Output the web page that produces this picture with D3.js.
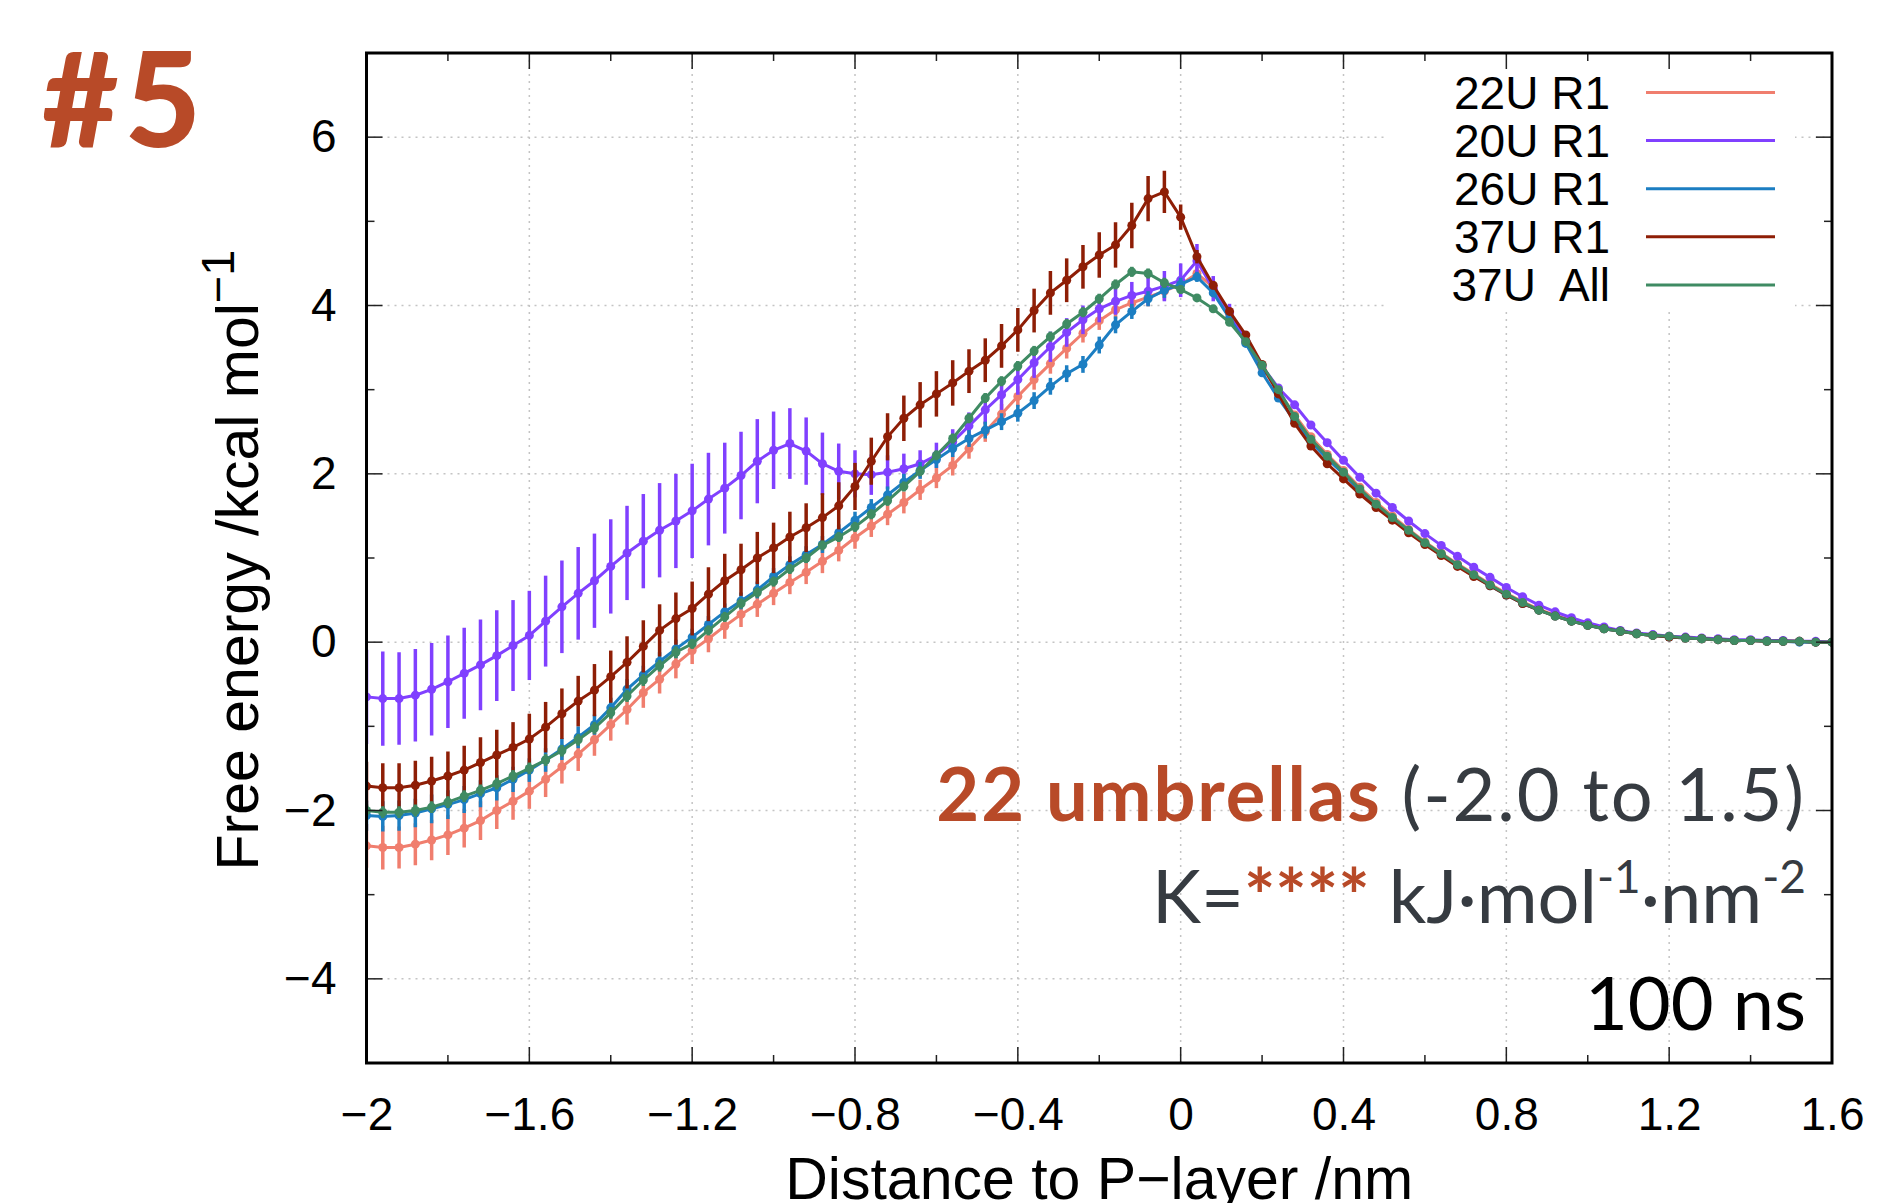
<!DOCTYPE html>
<html>
<head>
<meta charset="utf-8">
<script src="https://cdn.jsdelivr.net/npm/d3@7"></script>
<style>
  body { margin: 0; background: #fff; }
  svg { display: block; }
</style>
</head>
<body>
<svg id="chart" width="1884" height="1203"></svg>
<script>
// sampling grid of the umbrella profiles (nm), one point every 0.04
const distance = d3.range(0, 91).map(i => +(-2 + i * 0.04).toFixed(2));

// free energy (kcal/mol)
const fe22U = [
  -2.42, -2.44, -2.44, -2.40, -2.35, -2.29, -2.21, -2.12, -2.00, -1.89,
  -1.77, -1.63, -1.48, -1.33, -1.16, -0.98, -0.80, -0.60, -0.44, -0.26,
  -0.10, 0.04, 0.19, 0.33, 0.45, 0.58, 0.71, 0.83, 0.96, 1.09,
  1.24, 1.38, 1.52, 1.66, 1.81, 1.95, 2.10, 2.30, 2.50, 2.71,
  2.92, 3.12, 3.31, 3.49, 3.67, 3.82, 3.95, 4.03, 4.10, 4.17,
  4.25, 4.38, 4.22, 3.90, 3.58, 3.26, 2.98, 2.70, 2.44, 2.23,
  2.04, 1.84, 1.66, 1.50, 1.34, 1.19, 1.06, 0.93, 0.81, 0.69,
  0.58, 0.48, 0.39, 0.32, 0.26, 0.21, 0.17, 0.13, 0.10, 0.08,
  0.07, 0.05, 0.04, 0.03, 0.02, 0.02, 0.01, 0.01, 0.01, 0.00,
  0.00
];
const fe20U = [
  -0.65, -0.67, -0.67, -0.63, -0.56, -0.47, -0.37, -0.27, -0.16, -0.04,
  0.08, 0.25, 0.42, 0.58, 0.73, 0.90, 1.06, 1.20, 1.33, 1.44,
  1.56, 1.70, 1.83, 1.98, 2.15, 2.28, 2.36, 2.27, 2.12, 2.03,
  2.00, 1.99, 2.02, 2.06, 2.12, 2.22, 2.38, 2.57, 2.76, 2.94,
  3.12, 3.32, 3.51, 3.68, 3.83, 3.96, 4.05, 4.12, 4.17, 4.23,
  4.30, 4.53, 4.20, 3.92, 3.58, 3.28, 3.02, 2.82, 2.58, 2.37,
  2.16, 1.96, 1.77, 1.60, 1.44, 1.29, 1.15, 1.02, 0.89, 0.77,
  0.65, 0.54, 0.44, 0.36, 0.29, 0.23, 0.18, 0.14, 0.11, 0.09,
  0.07, 0.06, 0.05, 0.04, 0.03, 0.03, 0.02, 0.02, 0.01, 0.01,
  0.00
];
const fe26U = [
  -2.06, -2.07, -2.06, -2.03, -1.98, -1.93, -1.87, -1.80, -1.73, -1.63,
  -1.52, -1.40, -1.27, -1.13, -0.98, -0.78, -0.56, -0.39, -0.23, -0.08,
  0.06, 0.21, 0.36, 0.49, 0.62, 0.78, 0.92, 1.04, 1.16, 1.30,
  1.45, 1.60, 1.75, 1.90, 2.04, 2.17, 2.30, 2.42, 2.52, 2.62,
  2.72, 2.87, 3.04, 3.19, 3.30, 3.53, 3.77, 3.93, 4.08, 4.18,
  4.25, 4.34, 4.15, 3.85, 3.55, 3.20, 2.90, 2.63, 2.38, 2.18,
  2.00, 1.80, 1.63, 1.47, 1.32, 1.17, 1.04, 0.91, 0.79, 0.67,
  0.56, 0.46, 0.38, 0.31, 0.25, 0.20, 0.16, 0.13, 0.10, 0.08,
  0.06, 0.05, 0.04, 0.03, 0.02, 0.02, 0.01, 0.01, 0.00, 0.00,
  0.00
];
const fe37U = [
  -1.71, -1.73, -1.73, -1.70, -1.65, -1.59, -1.52, -1.43, -1.34, -1.25,
  -1.15, -1.01, -0.85, -0.70, -0.57, -0.41, -0.24, -0.05, 0.14, 0.28,
  0.40, 0.57, 0.73, 0.86, 1.00, 1.12, 1.25, 1.36, 1.48, 1.62,
  1.85, 2.15, 2.44, 2.66, 2.82, 2.95, 3.08, 3.22, 3.35, 3.52,
  3.71, 3.94, 4.15, 4.30, 4.46, 4.60, 4.72, 4.95, 5.27, 5.35,
  5.05, 4.58, 4.24, 3.93, 3.65, 3.30, 2.95, 2.60, 2.33, 2.12,
  1.94, 1.76, 1.60, 1.45, 1.30, 1.16, 1.03, 0.90, 0.78, 0.67,
  0.56, 0.46, 0.38, 0.31, 0.25, 0.20, 0.16, 0.13, 0.10, 0.08,
  0.06, 0.05, 0.04, 0.03, 0.02, 0.02, 0.01, 0.01, 0.01, 0.00,
  0.00
];
const fe37UAll = [
  -2.00, -2.02, -2.02, -2.00, -1.96, -1.90, -1.83, -1.76, -1.68, -1.59,
  -1.50, -1.40, -1.29, -1.16, -1.02, -0.84, -0.64, -0.45, -0.28, -0.12,
  -0.02, 0.14, 0.30, 0.46, 0.59, 0.72, 0.87, 1.00, 1.15, 1.25,
  1.37, 1.52, 1.68, 1.85, 2.03, 2.22, 2.42, 2.66, 2.90, 3.10,
  3.28, 3.46, 3.63, 3.78, 3.92, 4.08, 4.25, 4.40, 4.38, 4.27,
  4.19, 4.09, 3.96, 3.80, 3.57, 3.29, 3.00, 2.68, 2.41, 2.21,
  2.02, 1.82, 1.64, 1.48, 1.33, 1.18, 1.05, 0.92, 0.80, 0.68,
  0.57, 0.47, 0.38, 0.31, 0.25, 0.20, 0.16, 0.13, 0.10, 0.08,
  0.07, 0.05, 0.04, 0.03, 0.02, 0.02, 0.01, 0.01, 0.01, 0.00,
  0.00
];

// error bar half-lengths (kcal/mol)
const err22U = [
  0.26, 0.26, 0.25, 0.25, 0.24, 0.24, 0.23, 0.23, 0.22, 0.22,
  0.21, 0.21, 0.20, 0.20, 0.19, 0.19, 0.18, 0.18, 0.17, 0.17,
  0.16, 0.16, 0.15, 0.15, 0.15, 0.14, 0.14, 0.14, 0.14, 0.13,
  0.13, 0.13, 0.13, 0.13, 0.12, 0.12, 0.12, 0.12, 0.12, 0.12,
  0.12, 0.12, 0.12, 0.12, 0.11, 0.11, 0.11, 0.11, 0.11, 0.11,
  0.10, 0.08, 0.05, 0.04, 0.03, 0.03, 0.02, 0.02, 0.02, 0.02,
  0.02, 0.02, 0.02, 0.02, 0.02, 0.02, 0.02, 0.02, 0.02, 0.02,
  0.02, 0.02, 0.02, 0.02, 0.02, 0.02, 0.02, 0.02, 0.02, 0.02,
  0.02, 0.02, 0.02, 0.02, 0.02, 0.02, 0.02, 0.02, 0.02, 0.02,
  0.02
];
const err20U = [
  0.56, 0.56, 0.55, 0.55, 0.55, 0.55, 0.54, 0.54, 0.54, 0.54,
  0.53, 0.54, 0.55, 0.55, 0.56, 0.56, 0.56, 0.56, 0.56, 0.56,
  0.56, 0.55, 0.54, 0.52, 0.50, 0.46, 0.42, 0.40, 0.37, 0.33,
  0.28, 0.24, 0.20, 0.18, 0.16, 0.15, 0.15, 0.16, 0.17, 0.18,
  0.18, 0.18, 0.18, 0.17, 0.17, 0.16, 0.16, 0.16, 0.17, 0.18,
  0.20, 0.20, 0.15, 0.10, 0.07, 0.05, 0.04, 0.04, 0.03, 0.03,
  0.03, 0.03, 0.03, 0.02, 0.02, 0.02, 0.02, 0.02, 0.02, 0.02,
  0.02, 0.02, 0.02, 0.02, 0.02, 0.02, 0.02, 0.02, 0.02, 0.02,
  0.02, 0.02, 0.02, 0.02, 0.02, 0.02, 0.02, 0.02, 0.02, 0.02,
  0.02
];
const err26U = [
  0.18, 0.18, 0.18, 0.17, 0.17, 0.17, 0.16, 0.16, 0.15, 0.15,
  0.14, 0.14, 0.13, 0.13, 0.12, 0.12, 0.12, 0.11, 0.11, 0.11,
  0.10, 0.10, 0.10, 0.10, 0.10, 0.10, 0.10, 0.10, 0.10, 0.10,
  0.10, 0.10, 0.10, 0.10, 0.10, 0.10, 0.10, 0.10, 0.10, 0.10,
  0.10, 0.10, 0.10, 0.10, 0.10, 0.10, 0.10, 0.09, 0.09, 0.09,
  0.08, 0.06, 0.04, 0.03, 0.03, 0.02, 0.02, 0.02, 0.02, 0.02,
  0.02, 0.02, 0.02, 0.02, 0.02, 0.02, 0.02, 0.02, 0.02, 0.02,
  0.02, 0.02, 0.02, 0.02, 0.02, 0.02, 0.02, 0.02, 0.02, 0.02,
  0.02, 0.02, 0.02, 0.02, 0.02, 0.02, 0.02, 0.02, 0.02, 0.02,
  0.02
];
const err37U = [
  0.29, 0.29, 0.29, 0.29, 0.29, 0.29, 0.29, 0.30, 0.30, 0.30,
  0.30, 0.30, 0.30, 0.30, 0.31, 0.31, 0.31, 0.31, 0.31, 0.31,
  0.32, 0.32, 0.32, 0.31, 0.31, 0.30, 0.30, 0.29, 0.29, 0.28,
  0.28, 0.28, 0.28, 0.27, 0.27, 0.27, 0.27, 0.26, 0.26, 0.26,
  0.26, 0.26, 0.26, 0.26, 0.26, 0.27, 0.27, 0.27, 0.27, 0.25,
  0.15, 0.08, 0.05, 0.04, 0.03, 0.03, 0.03, 0.02, 0.02, 0.02,
  0.02, 0.02, 0.02, 0.02, 0.02, 0.02, 0.02, 0.02, 0.02, 0.02,
  0.02, 0.02, 0.02, 0.02, 0.02, 0.02, 0.02, 0.02, 0.02, 0.02,
  0.02, 0.02, 0.02, 0.02, 0.02, 0.02, 0.02, 0.02, 0.02, 0.02,
  0.02
];
const err37UAll = [
  0.07, 0.07, 0.07, 0.07, 0.07, 0.07, 0.07, 0.07, 0.07, 0.07,
  0.07, 0.07, 0.07, 0.07, 0.07, 0.07, 0.07, 0.07, 0.07, 0.07,
  0.06, 0.06, 0.06, 0.06, 0.06, 0.06, 0.06, 0.06, 0.06, 0.06,
  0.06, 0.06, 0.06, 0.06, 0.06, 0.06, 0.06, 0.06, 0.06, 0.06,
  0.06, 0.06, 0.06, 0.06, 0.06, 0.06, 0.06, 0.06, 0.06, 0.06,
  0.05, 0.04, 0.03, 0.03, 0.02, 0.02, 0.02, 0.02, 0.02, 0.02,
  0.02, 0.02, 0.02, 0.02, 0.02, 0.02, 0.02, 0.02, 0.02, 0.02,
  0.02, 0.02, 0.02, 0.02, 0.02, 0.02, 0.02, 0.02, 0.02, 0.02,
  0.02, 0.02, 0.02, 0.02, 0.02, 0.02, 0.02, 0.02, 0.02, 0.02,
  0.02
];

const seriesNames = ['22U R1', '20U R1', '26U R1', '37U R1', '37U  All'];
const seriesColors = ['#f07e6e', '#8040ff', '#1c7ec2', '#8e1e06', '#3f8b63'];
const seriesValues = [fe22U, fe20U, fe26U, fe37U, fe37UAll];
const seriesErrors = [err22U, err20U, err26U, err37U, err37UAll];

const xTickValues = [-2, -1.6, -1.2, -0.8, -0.4, 0, 0.4, 0.8, 1.2, 1.6];
const yTickValues = [-4, -2, 0, 2, 4, 6];

const margin = {left: 366.5, right: 1832, top: 53, bottom: 1063};
const accent = '#b84a28';
const slate = '#363b41';

const svg = d3.select('#chart');

const x = d3.scaleLinear().domain([-2, 1.6]).range([margin.left, margin.right]);
const y = d3.scaleLinear().domain([-5, 7]).range([margin.bottom, margin.top]);

const fmt = d3.format('~g');

// grid
const grid = svg.append('g')
    .attr('stroke', '#c4c4c4')
    .attr('stroke-width', 1.5)
    .attr('stroke-dasharray', '2,5');

grid.selectAll('line.gx')
    .data(xTickValues.slice(1, -1))
    .join('line')
    .attr('class', 'gx')
    .attr('x1', d => x(d)).attr('x2', d => x(d))
    .attr('y1', margin.top).attr('y2', margin.bottom);

grid.selectAll('line.gy')
    .data(yTickValues)
    .join('line')
    .attr('class', 'gy')
    .attr('x1', margin.left).attr('x2', margin.right)
    .attr('y1', d => y(d)).attr('y2', d => y(d));

// legend box hides the grid behind it
svg.append('rect')
    .attr('x', 1385).attr('y', margin.top + 2)
    .attr('width', 410).attr('height', 255)
    .attr('fill', '#fff');

// data
svg.append('clipPath').attr('id', 'plotclip')
    .append('rect')
    .attr('x', margin.left).attr('y', margin.top)
    .attr('width', margin.right - margin.left)
    .attr('height', margin.bottom - margin.top);

const plot = svg.append('g').attr('clip-path', 'url(#plotclip)');

const line = d3.line()
    .x(d => x(d.x))
    .y(d => y(d.v));

seriesNames.forEach((name, k) => {

    const pts = distance.map((d, i) => ({x: d, v: seriesValues[k][i], e: seriesErrors[k][i]}));
    const g = plot.append('g');
    const color = seriesColors[k];

    g.selectAll('line')
        .data(pts)
        .join('line')
        .attr('x1', d => x(d.x)).attr('x2', d => x(d.x))
        .attr('y1', d => y(d.v - d.e)).attr('y2', d => y(d.v + d.e))
        .attr('stroke', color)
        .attr('stroke-width', 3.5);

    g.append('path')
        .attr('d', line(pts))
        .attr('fill', 'none')
        .attr('stroke', color)
        .attr('stroke-width', 3);

    g.selectAll('circle')
        .data(pts)
        .join('circle')
        .attr('cx', d => x(d.x))
        .attr('cy', d => y(d.v))
        .attr('r', 4.5)
        .attr('fill', color);
});

// tick marks on all four sides, pointing inward
const ticks = svg.append('g').attr('stroke', '#222').attr('stroke-width', 1.5);
const xMinor = d3.range(0, 18).map(i => +(-1.8 + i * 0.4).toFixed(1)).filter(d => d < 1.6);
const yMinor = [-5, -3, -1, 1, 3, 5];

[[xTickValues, 16], [xMinor, 8]].forEach(([vals, len]) => {
    ticks.selectAll(null).data(vals).join('line')
        .attr('x1', d => x(d)).attr('x2', d => x(d))
        .attr('y1', margin.bottom).attr('y2', margin.bottom - len);
    ticks.selectAll(null).data(vals).join('line')
        .attr('x1', d => x(d)).attr('x2', d => x(d))
        .attr('y1', margin.top).attr('y2', margin.top + len);
});

[[yTickValues, 16], [yMinor, 8]].forEach(([vals, len]) => {
    ticks.selectAll(null).data(vals).join('line')
        .attr('x1', margin.left).attr('x2', margin.left + len)
        .attr('y1', d => y(d)).attr('y2', d => y(d));
    ticks.selectAll(null).data(vals).join('line')
        .attr('x1', margin.right).attr('x2', margin.right - len)
        .attr('y1', d => y(d)).attr('y2', d => y(d));
});

// border
svg.append('rect')
    .attr('x', margin.left).attr('y', margin.top)
    .attr('width', margin.right - margin.left)
    .attr('height', margin.bottom - margin.top)
    .attr('fill', 'none')
    .attr('stroke', '#000')
    .attr('stroke-width', 3);

// tick labels
const xAxis = svg.append('g')
    .attr('transform', `translate(0,${margin.bottom})`)
    .call(d3.axisBottom(x).tickValues(xTickValues).tickFormat(fmt).tickSize(0).tickPadding(34));

const yAxis = svg.append('g')
    .attr('transform', `translate(${margin.left},0)`)
    .call(d3.axisLeft(y).tickValues(yTickValues).tickFormat(fmt).tickSize(0).tickPadding(30));

[xAxis, yAxis].forEach(a => {
    a.select('.domain').remove();
    a.selectAll('text')
        .attr('fill', '#000')
        .style('font-family', '"Liberation Sans", Arial, sans-serif')
        .style('font-size', '46px');
});

// axis titles (the bottom one runs off the page in the original slide too)
svg.append('text')
    .attr('x', (margin.left + margin.right) / 2)
    .attr('y', 1199)
    .attr('text-anchor', 'middle')
    .style('font-family', '"Liberation Sans", Arial, sans-serif')
    .style('font-size', '59px')
    .text('Distance to P\u2212layer /nm');

const yTitle = svg.append('text')
    .attr('transform', `translate(258,${(margin.top + margin.bottom) / 2 + 2}) rotate(-90)`)
    .attr('text-anchor', 'middle')
    .style('font-family', '"Liberation Sans", Arial, sans-serif')
    .style('font-size', '59px');
yTitle.append('tspan').text('Free energy /kcal mol');
yTitle.append('tspan').attr('dy', -24).style('font-size', '47px').text('\u22121');

// legend
const legend = svg.append('g')
    .style('font-family', '"Liberation Sans", Arial, sans-serif')
    .style('font-size', '46px');

seriesNames.forEach((name, k) => {
    const cy = 92.5 + k * 48.1;
    legend.append('text')
        .attr('x', 1610).attr('y', cy + 16)
        .attr('text-anchor', 'end')
        .style('white-space', 'pre')
        .text(name);
    legend.append('line')
        .attr('x1', 1646).attr('x2', 1775)
        .attr('y1', cy).attr('y2', cy)
        .attr('stroke', seriesColors[k])
        .attr('stroke-width', 3);
});

// slide annotations
svg.append('text')
    .attr('x', 42).attr('y', 147)
    .attr('fill', accent)
    .style('font-family', 'Lato, sans-serif')
    .style('font-weight', 900)
    .style('font-size', '132px')
    .style('letter-spacing', '6px')
    .text('#5');

const ann = svg.append('g')
    .attr('text-anchor', 'end')
    .style('font-family', 'Lato, sans-serif')
    .style('font-size', '74px');

const a1 = ann.append('text').attr('x', 1806).attr('y', 821).style('letter-spacing', '1.9px');
a1.append('tspan').attr('fill', accent).style('font-weight', 700).text('22 umbrellas ');
a1.append('tspan').attr('fill', slate).text('(-2.0 to 1.5)');

const a2 = ann.append('text').attr('x', 1806).attr('y', 923).attr('fill', slate);
a2.append('tspan').text('K=');
a2.append('tspan').attr('fill', accent).style('font-weight', 700).text('****');
a2.append('tspan').text(' kJ\u00b7mol');
a2.append('tspan').attr('dy', -30).style('font-size', '46px').text('-1');
a2.append('tspan').attr('dy', 30).text('\u00b7nm');
a2.append('tspan').attr('dy', -30).style('font-size', '46px').text('-2');

ann.append('text').attr('x', 1806).attr('y', 1030)
    .attr('fill', '#000')
    .text('100 ns');
</script>
</body>
</html>
